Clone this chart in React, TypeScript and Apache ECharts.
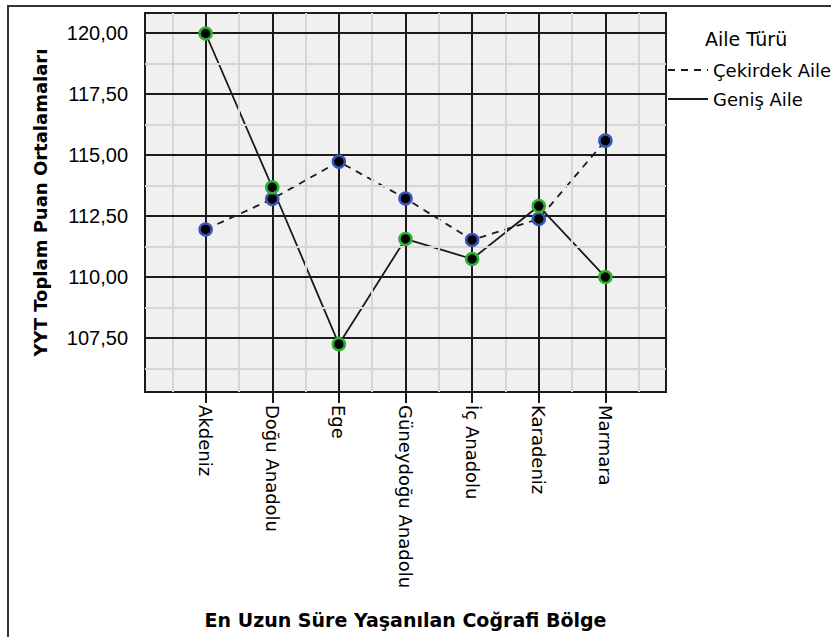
import React, { useEffect, useRef } from "react";
import * as echarts from "echarts";

const categories = [
  "Akdeniz",
  "Doğu Anadolu",
  "Ege",
  "Güneydoğu Anadolu",
  "İç Anadolu",
  "Karadeniz",
  "Marmara",
];
const cekirdekAile = [111.95, 113.2, 114.73, 113.22, 111.52, 112.38, 115.59];
const genisAile = [119.98, 113.68, 107.25, 111.56, 110.74, 112.91, 110.0];
const yTicks = [107.5, 110, 112.5, 115, 117.5, 120];
const yMinor = [106.25, 108.75, 111.25, 113.75, 116.25, 118.75];
const xTicks = [0, 1, 2, 3, 4, 5, 6];
const xMinor = [-0.5, 0.5, 1.5, 2.5, 3.5, 4.5, 5.5, 6.5];

const ARIAL = "'Liberation Sans', Arial, sans-serif";
const DEJAVU = "'DejaVu Sans', sans-serif";

export default function App() {
  const ref = useRef<HTMLDivElement>(null);
  useEffect(() => {
    if (!ref.current) return;
    const chart = echarts.init(ref.current, null, { renderer: "svg" });
    const toPairs = (arr: number[]) => arr.map((v, i) => [i, v]);
    const option: any = {
      animation: false,
      backgroundColor: "#ffffff",
      grid: {
        left: 145,
        top: 13,
        right: 165,
        bottom: 245,
        show: true,
        backgroundColor: "#f0f0f0",
        borderColor: "#1a1a1a",
        borderWidth: 2,
      },
      xAxis: {
        type: "value",
        min: -0.91,
        max: 6.91,
        name: "En Uzun Süre Yaşanılan Coğrafi Bölge",
        nameLocation: "middle",
        nameGap: 218,
        nameTextStyle: { fontFamily: DEJAVU, fontWeight: "bold", fontSize: 19, color: "#000" },
        splitLine: { show: false },
        axisLine: { show: false },
        axisTick: {
          show: true,
          customValues: xTicks,
          length: 11,
          lineStyle: { color: "#1a1a1a", width: 2 },
        },
        axisLabel: {
          customValues: xTicks,
          rotate: -90,
          margin: 13,
          fontFamily: DEJAVU,
          fontSize: 18,
          color: "#000",
          formatter: (v: number) => categories[Math.round(v)] ?? "",
        },
      },
      yAxis: {
        type: "value",
        min: 105.29,
        max: 120.82,
        name: "YYT Toplam Puan Ortalamaları",
        nameLocation: "middle",
        nameGap: 96,
        nameTextStyle: { fontFamily: DEJAVU, fontWeight: "bold", fontSize: 18, color: "#000" },
        splitLine: { show: false },
        axisLine: { show: false },
        axisTick: {
          show: true,
          customValues: yTicks,
          length: 12,
          lineStyle: { color: "#1a1a1a", width: 2 },
        },
        axisLabel: {
          customValues: yTicks,
          margin: 17,
          fontFamily: ARIAL,
          fontSize: 20,
          color: "#000",
          formatter: (v: number) => v.toFixed(2).replace(".", ","),
        },
      },
      legend: {
        orient: "vertical",
        left: 667,
        top: 61,
        itemWidth: 40,
        itemHeight: 12,
        itemGap: 11,
        padding: 0,
        itemStyle: { opacity: 0 },
        textStyle: { fontFamily: DEJAVU, fontSize: 18, color: "#000", lineHeight: 14 },
        data: ["Çekirdek Aile", "Geniş Aile"],
      },
      graphic: [
        {
          type: "rect",
          shape: { x: 8, y: 6, width: 1000, height: 1000 },
          style: { fill: "none", stroke: "#333", lineWidth: 2 },
          silent: true,
        },
        {
          type: "text",
          x: 705,
          y: 39,
          style: {
            text: "Aile Türü",
            fontFamily: DEJAVU,
            fontSize: 19,
            fill: "#000",
            textVerticalAlign: "middle",
            verticalAlign: "middle",
          },
        },
      ],
      series: [
        {
          type: "line",
          name: "minorGrid",
          data: [],
          z: 1,
          silent: true,
          markLine: {
            silent: true,
            symbol: ["none", "none"],
            label: { show: false },
            lineStyle: { color: "#d6d6d6", width: 2, type: "solid" },
            emphasis: { disabled: true },
            data: [
              ...yMinor.map((v) => ({ yAxis: v })),
              ...xMinor.map((v) => ({ xAxis: v })),
            ],
          },
        },
        {
          type: "line",
          name: "majorGrid",
          data: [],
          z: 2,
          silent: true,
          markLine: {
            silent: true,
            symbol: ["none", "none"],
            label: { show: false },
            lineStyle: { color: "#1a1a1a", width: 2, type: "solid" },
            emphasis: { disabled: true },
            data: [
              ...yTicks.map((v) => ({ yAxis: v })),
              ...xTicks.map((v) => ({ xAxis: v })),
            ],
          },
        },
        {
          type: "line",
          name: "Çekirdek Aile",
          data: toPairs(cekirdekAile),
          z: 3,
          symbol: "none",
          lineStyle: { color: "#1a1a1a", width: 1.8, type: [7, 6] },
          itemStyle: { color: "#1a1a1a" },
        },
        {
          type: "line",
          name: "Geniş Aile",
          data: toPairs(genisAile),
          z: 3,
          symbol: "none",
          lineStyle: { color: "#1a1a1a", width: 1.8, type: "solid" },
          itemStyle: { color: "#1a1a1a" },
        },
        {
          type: "scatter",
          name: "Çekirdek Aile noktalar",
          data: toPairs(cekirdekAile),
          z: 5,
          symbol: "circle",
          symbolSize: 12,
          itemStyle: { color: "#000", borderColor: "#3a55b8", borderWidth: 2.5, opacity: 1 },
        },
        {
          type: "scatter",
          name: "Geniş Aile noktalar",
          data: toPairs(genisAile),
          z: 6,
          symbol: "circle",
          symbolSize: 12,
          itemStyle: { color: "#000", borderColor: "#2db22d", borderWidth: 2.5, opacity: 1 },
        },
      ],
    };
    chart.setOption(option);
    return () => chart.dispose();
  }, []);
  return <div ref={ref} style={{ width: 831, height: 637, position: "absolute", left: 0, top: 0 }} />;
}
